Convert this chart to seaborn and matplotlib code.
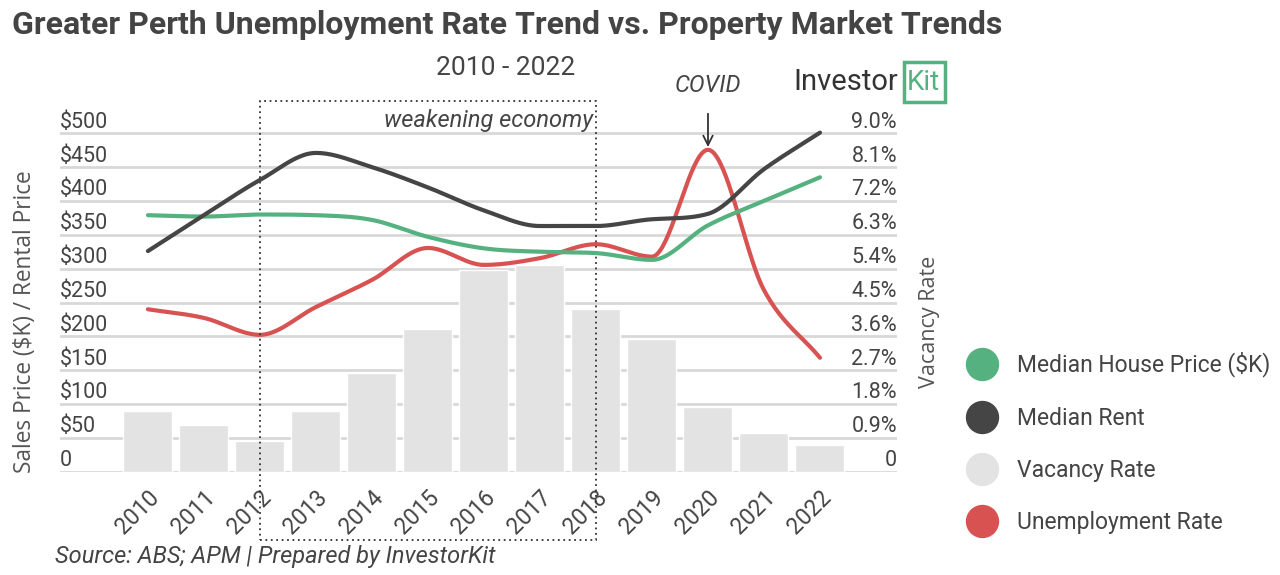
import numpy as np
import pandas as pd
import matplotlib
matplotlib.use("Agg")
import matplotlib.pyplot as plt
import matplotlib.transforms as mtransforms
from matplotlib.patches import Rectangle
from matplotlib.lines import Line2D
import seaborn as sns

# data
years = ["2010", "2011", "2012", "2013", "2014", "2015", "2016",
         "2017", "2018", "2019", "2020", "2021", "2022"]
house_price = [379, 377, 380, 379, 372, 347, 330, 325, 323, 313, 364, 400, 435]
median_rent = [326, 379, 431, 471, 450, 420, 386, 363, 363, 373, 381, 447, 501]
vacancy_rate = [1.61, 1.24, 0.82, 1.61, 2.63, 3.80, 5.36, 5.50, 4.33, 3.53, 1.73, 1.04, 0.71]
unemployment = [4.32, 4.09, 3.64, 4.38, 5.10, 5.95, 5.50, 5.68, 6.05, 5.72, 8.56, 4.83, 3.03]

left_ticks = [0, 50, 100, 150, 200, 250, 300, 350, 400, 450, 500]
left_labels = ["0", "$50", "$100", "$150", "$200", "$250", "$300",
               "$350", "$400", "$450", "$500"]
right_ticks = [0, 0.9, 1.8, 2.7, 3.6, 4.5, 5.4, 6.3, 7.2, 8.1, 9.0]
right_labels = ["0", "0.9%", "1.8%", "2.7%", "3.6%", "4.5%", "5.4%",
                "6.3%", "7.2%", "8.1%", "9.0%"]

GREEN = "#55b17f"
DARK = "#454545"
RED = "#d95252"
BAR = "#e3e3e3"
GRID = "#d8d8d8"
TXT = "#444444"


def monotone(y, n=40):
    # Fritsch-Carlson monotone cubic, used only to draw the smooth curve
    y = np.asarray(y, dtype=float)
    x = np.arange(len(y), dtype=float)
    d = np.diff(y)
    m = np.zeros_like(y)
    m[0], m[-1] = d[0], d[-1]
    for k in range(1, len(y) - 1):
        if d[k - 1] * d[k] > 0:
            m[k] = (d[k - 1] + d[k]) / 2
    for k in range(len(d)):
        if d[k] == 0:
            m[k] = m[k + 1] = 0
            continue
        a, b = m[k] / d[k], m[k + 1] / d[k]
        s = a * a + b * b
        if s > 9:
            t = 3 / np.sqrt(s)
            m[k], m[k + 1] = t * a * d[k], t * b * d[k]
    xs, ys = [], []
    for k in range(len(d)):
        t = np.linspace(0, 1, n, endpoint=(k == len(d) - 1))
        h00 = 2 * t**3 - 3 * t**2 + 1
        h10 = t**3 - 2 * t**2 + t
        h01 = -2 * t**3 + 3 * t**2
        h11 = t**3 - t**2
        xs.append(x[k] + t)
        ys.append(h00 * y[k] + h10 * m[k] + h01 * y[k + 1] + h11 * m[k + 1])
    return np.concatenate(xs), np.concatenate(ys)


sns.set_style("white")
plt.rcParams["font.family"] = ["Roboto", "DejaVu Sans"]

fig = plt.figure(figsize=(12.8, 5.75), dpi=100)
ax_bottom = (575 - 471.7) / 575
ax_height = 530 * 0.6768 / 575
ax = fig.add_axes([60 / 1280, ax_bottom, (897 - 60) / 1280, ax_height])

top_scale = 530 / 500

# vacancy bars on the percent axis
sns.barplot(x=years, y=vacancy_rate, color=BAR, saturation=1, width=0.875, ax=ax, zorder=2)
ax.set_ylim(0, 9 * top_scale)
ax.set_yticks(right_ticks)
ax.yaxis.grid(True, color=GRID, lw=2, zorder=0)
ax.set_axisbelow(True)

# unemployment on the percent axis
ux, uy = monotone(unemployment)
sns.lineplot(x=ux, y=uy, color=RED, lw=3, sort=False, estimator=None, ax=ax, zorder=4)

# prices on the dollar axis
tw = ax.twinx()
tw.set_ylim(0, 500 * top_scale)
gx, gy = monotone(house_price)
rx, ry = monotone(median_rent)
sns.lineplot(x=gx, y=gy, color=GREEN, lw=3, sort=False, estimator=None, ax=tw)
sns.lineplot(x=rx, y=ry, color=DARK, lw=3, sort=False, estimator=None, ax=tw)

xlim = (-1.57, 13.375)
ax.set_xlim(*xlim)
tw.set_xlim(*xlim)
for a in (ax, tw):
    for s in a.spines.values():
        s.set_visible(False)
    a.set_yticks([] if a is tw else right_ticks)
    a.tick_params(length=0)
    a.set_ylabel("")
    a.set_xlabel("")
ax.set_yticklabels([])

ax.set_xticks(range(len(years)))
ax.set_xticklabels(years, rotation=45, ha="right", rotation_mode="anchor",
                   fontsize=16.5, color=TXT)
ax.tick_params(axis="x", pad=10)

# tick labels sitting on the grid lines
left_tr = mtransforms.blended_transform_factory(ax.transAxes, tw.transData)
left_tr = left_tr + mtransforms.ScaledTranslation(0, 4 / 72, fig.dpi_scale_trans)
right_tr = mtransforms.blended_transform_factory(ax.transAxes, ax.transData)
right_tr = right_tr + mtransforms.ScaledTranslation(0, 4 / 72, fig.dpi_scale_trans)
for v, lab in zip(left_ticks, left_labels):
    ax.text(0, v, lab, transform=left_tr, ha="left", va="baseline",
            fontsize=15.5, color=TXT)
for v, lab in zip(right_ticks, right_labels):
    ax.text(1, v, lab, transform=right_tr, ha="right", va="baseline",
            fontsize=15.5, color=TXT)

# dotted "weakening economy" box
box_tr = mtransforms.blended_transform_factory(ax.transData, ax.transAxes)
ax.add_patch(Rectangle((2, -0.19), 6, 1.2235, transform=box_tr, fill=False,
                       ls=(0, (1, 2)), lw=1.3, ec="#333333", clip_on=False, zorder=6))
ax.text(7.95, 0.98, "weakening economy", transform=box_tr, ha="right", va="center",
        fontsize=17, style="italic", color=TXT)

# COVID marker
ax.annotate("COVID", xy=(10, 0.905), xycoords=box_tr, xytext=(10, 1.078),
            textcoords=box_tr, ha="center", va="center", fontsize=17,
            style="italic", color=TXT,
            arrowprops=dict(arrowstyle="->", color="#333333", lw=1.3,
                            shrinkA=10, shrinkB=0), annotation_clip=False)

# titles and axis names
fig.text(12 / 1280, 1 - 25 / 575,
         "Greater Perth Unemployment Rate Trend vs. Property Market Trends",
         fontsize=23, weight="bold", color=TXT, va="center", ha="left")
fig.text(506 / 1280, 1 - 68 / 575, "2010 - 2022", fontsize=19, color=TXT,
         va="center", ha="center")
fig.text(25 / 1280, 1 - 322 / 575, "Sales Price ($K) / Rental Price", rotation=90,
         fontsize=16.3, color="#555555", va="center", ha="center", family="Open Sans")
fig.text(930 / 1280, 1 - 322 / 575, "Vacancy Rate", rotation=90,
         fontsize=15.5, color="#555555", va="center", ha="center", family="Open Sans")
fig.text(55 / 1280, 1 - 556 / 575, "Source: ABS; APM | Prepared by InvestorKit",
         fontsize=17, style="italic", color=TXT, va="center", ha="left")

# logo
fig.text(793 / 1280, 1 - 82 / 575, "Investor", fontsize=21, color="#333333",
         va="center", ha="left")
fig.add_artist(Rectangle((904 / 1280, 1 - 102 / 575), 41 / 1280, 40 / 575,
                         transform=fig.transFigure, fill=False, ec=GREEN, lw=2.5))
fig.text(907 / 1280, 1 - 83 / 575, "Kit", fontsize=20, color=GREEN,
         va="center", ha="left")

# legend
handles = [Line2D([], [], marker="o", ls="", ms=23, color=c)
           for c in (GREEN, DARK, BAR, RED)]
labels = ["Median House Price ($K)", "Median Rent", "Vacancy Rate", "Unemployment Rate"]
fig.legend(handles, labels, loc="center left", bbox_to_anchor=(938 / 1280, 1 - 443 / 575),
           frameon=False, fontsize=16.5, labelspacing=1.28, handletextpad=0.55,
           labelcolor=TXT)

fig.savefig("out.png", dpi=100)
